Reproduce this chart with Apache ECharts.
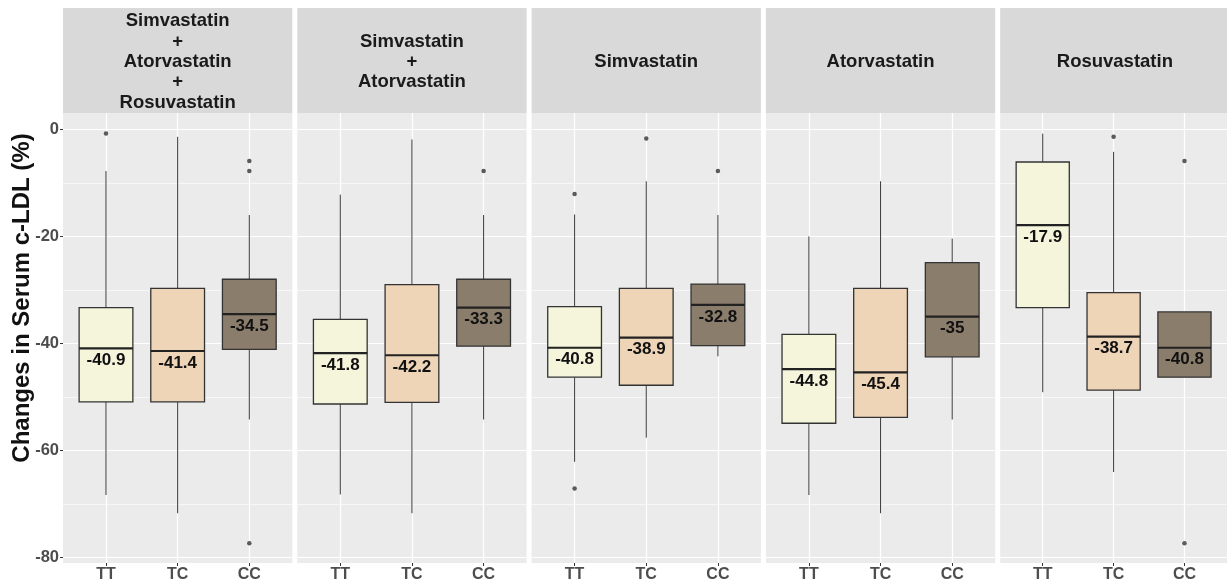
<!DOCTYPE html>
<html>
<head>
<meta charset="utf-8">
<title>Changes in Serum c-LDL</title>
<script src="https://cdn.jsdelivr.net/npm/echarts@6.0.0/dist/echarts.min.js"></script>
<style>
  html, body { margin: 0; padding: 0; background: #fff; }
  #chart { width: 1227px; height: 586px; }
</style>
</head>
<body>
<div id="chart"></div>
<script>
// facet titles
const panels = [
  'Simvastatin\n+\nAtorvastatin\n+\nRosuvastatin',
  'Simvastatin\n+\nAtorvastatin',
  'Simvastatin',
  'Atorvastatin',
  'Rosuvastatin'
];
const genotypes = ['TT', 'TC', 'CC'];
const yTicks = [0, -20, -40, -60, -80];
const yMinorTicks = [-10, -30, -50, -70];

// box statistics, one row per panel, columns TT / TC / CC
const lowerWhisker = [
  [-68.3, -71.7, -54.2],
  [-68.2, -71.7, -54.2],
  [-62.1, -57.6, -42.4],
  [-68.3, -71.7, -54.2],
  [-49.1, -64.0, -46.3]
];
const q1 = [
  [-50.9, -50.9, -41.1],
  [-51.3, -51.0, -40.5],
  [-46.3, -47.8, -40.4],
  [-54.9, -53.8, -42.5],
  [-33.3, -48.7, -46.3]
];
const medians = [
  [-40.9, -41.4, -34.5],
  [-41.8, -42.2, -33.3],
  [-40.8, -38.9, -32.8],
  [-44.8, -45.4, -35],
  [-17.9, -38.7, -40.8]
];
const q3 = [
  [-33.3, -29.7, -28.0],
  [-35.5, -29.0, -28.0],
  [-33.1, -29.7, -28.9],
  [-38.3, -29.7, -24.9],
  [-6.1, -30.5, -34.1]
];
const upperWhisker = [
  [-7.8, -1.4, -16.0],
  [-12.2, -1.9, -16.0],
  [-15.9, -9.7, -16.0],
  [-20.0, -9.7, -20.4],
  [-0.8, -4.2, -34.1]
];
// outliers: [genotype index, value]
const outliers = [
  [[0, -0.8], [2, -5.9], [2, -7.8], [2, -77.3]],
  [[2, -7.8]],
  [[0, -12.1], [0, -67.1], [1, -1.7], [2, -7.8]],
  [],
  [[1, -1.4], [2, -5.9], [2, -77.3]]
];

// look
const fills = ['#F5F5DC', '#EED5B7', '#8B7D6B'];
const FONT = '"Liberation Sans", Arial, sans-serif';
const PANEL_LEFT = 63;
const PANEL_STEP = 234.3;
const PANEL_W = 229.3;
const PANEL_TOP = 113;
const PANEL_BOTTOM = 23;
const STRIP_TOP = 8;

const chart = echarts.init(document.getElementById('chart'));

const grid = [], xAxis = [], yAxis = [], series = [], graphic = [];

panels.forEach((name, i) => {
  const left = PANEL_LEFT + i * PANEL_STEP;
  grid.push({
    left: left, width: PANEL_W, top: PANEL_TOP, bottom: PANEL_BOTTOM,
    show: true, backgroundColor: '#EBEBEB', borderWidth: 0
  });
  xAxis.push({
    type: 'value', gridIndex: i, min: 0.4, max: 3.6, position: 'bottom',
    axisLine: { show: false, onZero: false },
    axisTick: { show: true, length: 3, customValues: [1, 2, 3], lineStyle: { color: '#333', width: 1 } },
    axisLabel: {
      customValues: [1, 2, 3], margin: 4,
      formatter: v => genotypes[Math.round(v) - 1] || '',
      color: '#4D4D4D', fontWeight: 'bold', fontSize: 16, fontFamily: FONT
    },
    splitLine: { show: true, lineStyle: { color: '#fff', width: 1.2 } }
  });
  // major grid
  yAxis.push({
    type: 'value', gridIndex: i, min: -81, max: 3.05,
    axisLine: { show: false, onZero: false },
    axisTick: { show: i === 0, length: 3, customValues: yTicks, lineStyle: { color: '#333', width: 1 } },
    axisLabel: {
      show: i === 0, customValues: yTicks, margin: 4,
      color: '#4D4D4D', fontWeight: 'bold', fontSize: 16.5, fontFamily: FONT
    },
    splitLine: { show: true, lineStyle: { color: '#fff', width: 1.2 } }
  });

  const boxes = genotypes.map((g, k) => [
    k + 1, lowerWhisker[i][k], q1[i][k], medians[i][k], q3[i][k], upperWhisker[i][k], k
  ]);

  series.push({
    type: 'custom',
    xAxisIndex: i, yAxisIndex: i,
    encode: { x: 0, y: [1, 2, 3, 4, 5] },
    data: boxes,
    z: 3,
    renderItem: (params, api) => {
      const x = api.value(0);
      const lw = api.coord([x, api.value(1)]);
      const b1 = api.coord([x, api.value(2)]);
      const md = api.coord([x, api.value(3)]);
      const b3 = api.coord([x, api.value(4)]);
      const uw = api.coord([x, api.value(5)]);
      const bw = api.size([0.75, 0])[0];
      const k = api.value(6);
      return {
        type: 'group',
        children: [
          { type: 'line', shape: { x1: lw[0], y1: lw[1], x2: b1[0], y2: b1[1] }, style: { stroke: '#3a3a3a', lineWidth: 1 } },
          { type: 'line', shape: { x1: b3[0], y1: b3[1], x2: uw[0], y2: uw[1] }, style: { stroke: '#3a3a3a', lineWidth: 1 } },
          { type: 'rect', shape: { x: b3[0] - bw / 2, y: b3[1], width: bw, height: b1[1] - b3[1] },
            style: { fill: fills[k], stroke: '#333', lineWidth: 1.3 } },
          { type: 'line', shape: { x1: md[0] - bw / 2, y1: md[1], x2: md[0] + bw / 2, y2: md[1] },
            style: { stroke: '#222', lineWidth: 2.2 } },
          { type: 'text', x: md[0], y: md[1] + 12,
            style: { text: String(api.value(3)), textAlign: 'center', textVerticalAlign: 'middle',
              font: 'bold 17px ' + FONT, fill: '#111' } }
        ]
      };
    }
  });

  series.push({
    type: 'scatter',
    xAxisIndex: i, yAxisIndex: i,
    symbol: 'circle', symbolSize: 4.5,
    itemStyle: { color: '#333' },
    z: 4,
    data: outliers[i].map(p => [p[0] + 1, p[1]])
  });

  // facet strip
  graphic.push({
    type: 'rect', left: left, top: STRIP_TOP,
    shape: { width: PANEL_W, height: PANEL_TOP - STRIP_TOP },
    style: { fill: '#D9D9D9' }
  });
  graphic.push({
    type: 'text', x: left + PANEL_W / 2, y: (STRIP_TOP + PANEL_TOP) / 2 + 1.5,
    style: { text: name, textAlign: 'center', textVerticalAlign: 'middle',
      font: 'bold 18.5px ' + FONT, lineHeight: 20.3, fill: '#1A1A1A' }
  });
});

// minor grid lines
panels.forEach((name, i) => {
  yAxis.push({
    type: 'value', gridIndex: i, min: -81, max: 3.05, position: 'left',
    axisLine: { show: false, onZero: false },
    axisTick: { show: false, customValues: yMinorTicks },
    axisLabel: { show: false, customValues: yMinorTicks },
    splitLine: { show: true, lineStyle: { color: '#fff', width: 0.6 } }
  });
});

// y axis title
graphic.push({
  type: 'text', x: 22, y: 298, rotation: Math.PI / 2,
  style: { text: 'Changes in Serum c-LDL (%)', textAlign: 'center', textVerticalAlign: 'middle',
    font: 'bold 24px ' + FONT, fill: '#111' }
});

chart.setOption({
  animation: false,
  backgroundColor: '#fff',
  grid: grid,
  xAxis: xAxis,
  yAxis: yAxis,
  series: series,
  graphic: graphic
});
</script>
</body>
</html>
